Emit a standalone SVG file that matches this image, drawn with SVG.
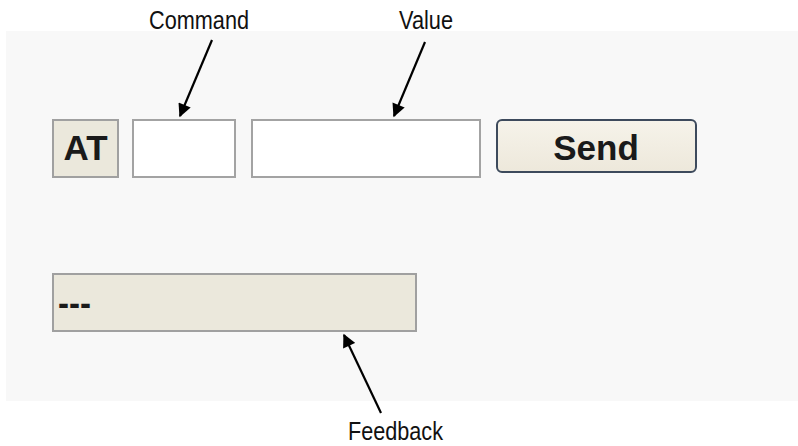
<svg xmlns="http://www.w3.org/2000/svg" width="798" height="446" viewBox="0 0 798 446">
  <defs>
    <style>
      .label { font-family: "Liberation Sans", Arial, sans-serif; font-size: 25px; fill: #111; }
      .ui { font-family: "Liberation Sans", Arial, sans-serif; font-weight: bold; font-size: 35px; fill: #1a1a1a; }
      .field { fill: #ffffff; stroke: #a3a3a3; stroke-width: 2; }
      .readonly { fill: #ebe8dc; stroke: #a0a0a0; stroke-width: 2; }
      .conn { stroke: #000; stroke-width: 2.2; fill: none; marker-end: url(#head); }
    </style>
    <marker id="head" viewBox="0 0 10 10" refX="9" refY="5" markerWidth="7" markerHeight="6" markerUnits="strokeWidth" orient="auto">
      <path d="M0,0 L10,5 L0,10 z" fill="#000"/>
    </marker>
    <linearGradient id="btn" x1="0" y1="0" x2="0" y2="1">
      <stop offset="0" stop-color="#f6f3ea"/>
      <stop offset="1" stop-color="#ede8db"/>
    </linearGradient>
  </defs>

  <rect x="0" y="0" width="798" height="446" fill="#ffffff"/>
  <!-- form panel -->
  <rect x="6" y="31" width="792" height="370" fill="#f8f8f8"/>

  <g id="at-prefix">
    <rect x="53" y="120" width="65" height="57" class="readonly"/>
    <text x="85.5" y="160" class="ui" text-anchor="middle">AT</text>
  </g>

  <g id="command-field">
    <rect x="133" y="120" width="102" height="57" class="field"/>
  </g>

  <g id="value-field">
    <rect x="252" y="120" width="228" height="57" class="field"/>
  </g>

  <g id="send-button">
    <rect x="497" y="120" width="199" height="52" rx="5" ry="5" fill="url(#btn)" stroke="#3d4a5c" stroke-width="2"/>
    <text x="596" y="160" class="ui" text-anchor="middle">Send</text>
  </g>

  <g id="feedback-field">
    <rect x="53" y="274" width="363" height="57" class="readonly"/>
    <text x="58" y="315" class="ui" font-size="30" textLength="33" lengthAdjust="spacingAndGlyphs">---</text>
  </g>

  <g id="label-command">
    <text x="199" y="29" class="label" text-anchor="middle" textLength="100" lengthAdjust="spacingAndGlyphs">Command</text>
  </g>
  <g id="label-value">
    <text x="426" y="29" class="label" text-anchor="middle" textLength="54" lengthAdjust="spacingAndGlyphs">Value</text>
  </g>
  <g id="label-feedback">
    <text x="395.5" y="440" class="label" text-anchor="middle" textLength="95" lengthAdjust="spacingAndGlyphs">Feedback</text>
  </g>

  <g id="connectors">
    <line x1="212" y1="40" x2="180" y2="116" class="conn"/>
    <line x1="425" y1="42" x2="394" y2="116" class="conn"/>
    <line x1="381" y1="413" x2="344" y2="335" class="conn"/>
  </g>
</svg>
